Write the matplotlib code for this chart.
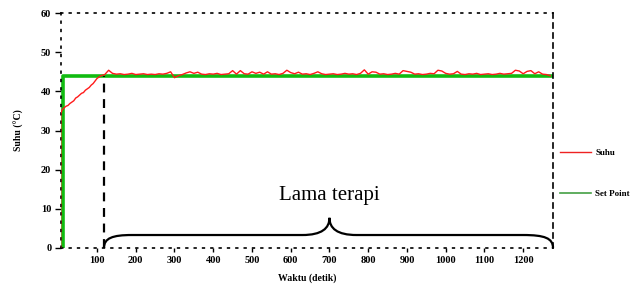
import matplotlib.pyplot as plt
from matplotlib.path import Path
from matplotlib.patches import PathPatch
from matplotlib.lines import Line2D

# Data: temperature (Suhu) and set point versus time (Waktu)
rise_t = [6, 6.5, 10, 15, 20, 25, 30, 40, 45, 50, 60, 65, 70, 80, 85, 90, 100, 110]
rise_v = [0, 34.3, 35.3, 35.8, 36.2, 36.4, 36.9, 37.6, 38.3, 38.6, 39.5, 39.7,
          40.3, 41.0, 41.6, 42.0, 43.3, 44.0]

steady_t = list(range(120, 1280, 10))
steady_v = [44.3, 45.4, 44.6, 44.4, 44.5, 44.3, 44.4, 44.6, 44.3, 44.4,
            44.5, 44.3, 44.4, 44.3, 44.5, 44.4, 44.6, 45.0, 43.5, 44.0,
            44.3, 44.7, 45.0, 44.6, 44.9, 44.4, 44.3, 44.5, 44.4, 44.6,
            44.3, 44.4, 44.5, 45.3, 44.4, 45.3, 44.5, 44.4, 45.0, 44.6,
            44.9, 44.4, 45.0, 44.4, 44.5, 44.3, 44.6, 45.4, 44.8, 44.5,
            44.9, 44.4, 44.5, 44.3, 44.6, 45.0, 44.5, 44.3, 44.4, 44.5,
            44.3, 44.4, 44.6, 44.4, 44.5, 44.3, 44.6, 45.5, 44.4, 45.0,
            44.9, 44.4, 44.5, 44.3, 44.4, 44.6, 44.4, 45.3, 45.1, 44.9,
            44.4, 44.5, 44.3, 44.4, 44.6, 44.5, 45.4, 45.2, 44.6, 44.4,
            44.5, 45.1, 44.4, 44.3, 44.5, 44.4, 44.6, 44.3, 44.4, 44.5,
            44.3, 44.4, 44.6, 44.4, 44.5, 44.6, 45.4, 45.2, 44.5, 45.1,
            45.3, 44.5, 45.0, 44.4, 44.3, 44.0]

suhu_t = rise_t + steady_t
suhu_v = rise_v + steady_v

sp_t = [13, 13, 1277]
sp_v = [0, 44, 44]

terapi_start = 118
terapi_end = 1277
terapi_mid = 700

x_ticks = [100, 200, 300, 400, 500, 600, 700, 800, 900, 1000, 1100, 1200]
y_ticks = [0, 10, 20, 30, 40, 50, 60]

serif = 'Liberation Serif'

fig = plt.figure(figsize=(6.32, 2.91), dpi=100)
ax = fig.add_axes([0.0965, 0.148, 0.7785, 0.807])

ax.plot(sp_t, sp_v, color='#11bb11', lw=2.6, zorder=2)
ax.plot(suhu_t, suhu_v, color='#ff1a1a', lw=1.0, zorder=3)

# dashed marker for start of therapy
ax.plot([terapi_start, terapi_start], [0, 44], color='black', lw=1.6,
        ls=(0, (4, 3)), zorder=4)

# curly brace
h1, h2 = 3.3, 7.7
verts = [(terapi_start, 0), (terapi_start, 2.5), (140, h1), (190, h1),
         (terapi_mid - 70, h1),
         (terapi_mid - 20, h1), (terapi_mid, 5), (terapi_mid, h2),
         (terapi_mid, 5), (terapi_mid + 20, h1), (terapi_mid + 70, h1),
         (1200, h1),
         (1255, h1), (terapi_end, 2.5), (terapi_end, 0)]
codes = [Path.MOVETO, Path.CURVE4, Path.CURVE4, Path.CURVE4,
         Path.LINETO,
         Path.CURVE4, Path.CURVE4, Path.CURVE4,
         Path.CURVE4, Path.CURVE4, Path.CURVE4,
         Path.LINETO,
         Path.CURVE4, Path.CURVE4, Path.CURVE4]
ax.add_patch(PathPatch(Path(verts, codes), fill=False, lw=1.6,
                       edgecolor='black', zorder=5, clip_on=False))
ax.text(terapi_mid, 13.3, 'Lama terapi', ha='center', va='center',
        fontsize=15, family=serif)

ax.set_xlim(7, 1277)
ax.set_ylim(0, 60)
ax.set_xticks(x_ticks)
ax.set_yticks(y_ticks)
ax.set_xticklabels([str(v) for v in x_ticks], fontsize=7.5,
                   family=serif, fontweight='bold')
ax.set_yticklabels([str(v) for v in y_ticks], fontsize=7.5,
                   family=serif, fontweight='bold')
ax.tick_params(axis='both', direction='out', length=4, width=1, pad=3)
ax.tick_params(axis='x', length=3)

for side in ['left', 'top', 'bottom']:
    ax.spines[side].set_linestyle((0, (1, 4)))
    ax.spines[side].set_linewidth(1.2)
ax.spines['right'].set_linestyle((0, (3, 3)))
ax.spines['right'].set_linewidth(1.2)

ax.set_xlabel('Waktu (detik)', fontsize=7, family=serif,
              fontweight='bold', labelpad=6)
ax.set_ylabel('Suhu (°C)', fontsize=7, family=serif,
              fontweight='bold', labelpad=12)

handles = [Line2D([], [], color='#ee2222', lw=1.0),
           Line2D([], [], color='#44a044', lw=1.2)]
fig.legend(handles, ['Suhu', 'Set Point'], loc='center left',
           bbox_to_anchor=(0.873, 0.405), frameon=False,
           prop={'family': serif, 'weight': 'bold', 'size': 6.5},
           handlelength=3.4, labelspacing=3.6, handletextpad=0.5)

fig.savefig('out.png', dpi=100)
